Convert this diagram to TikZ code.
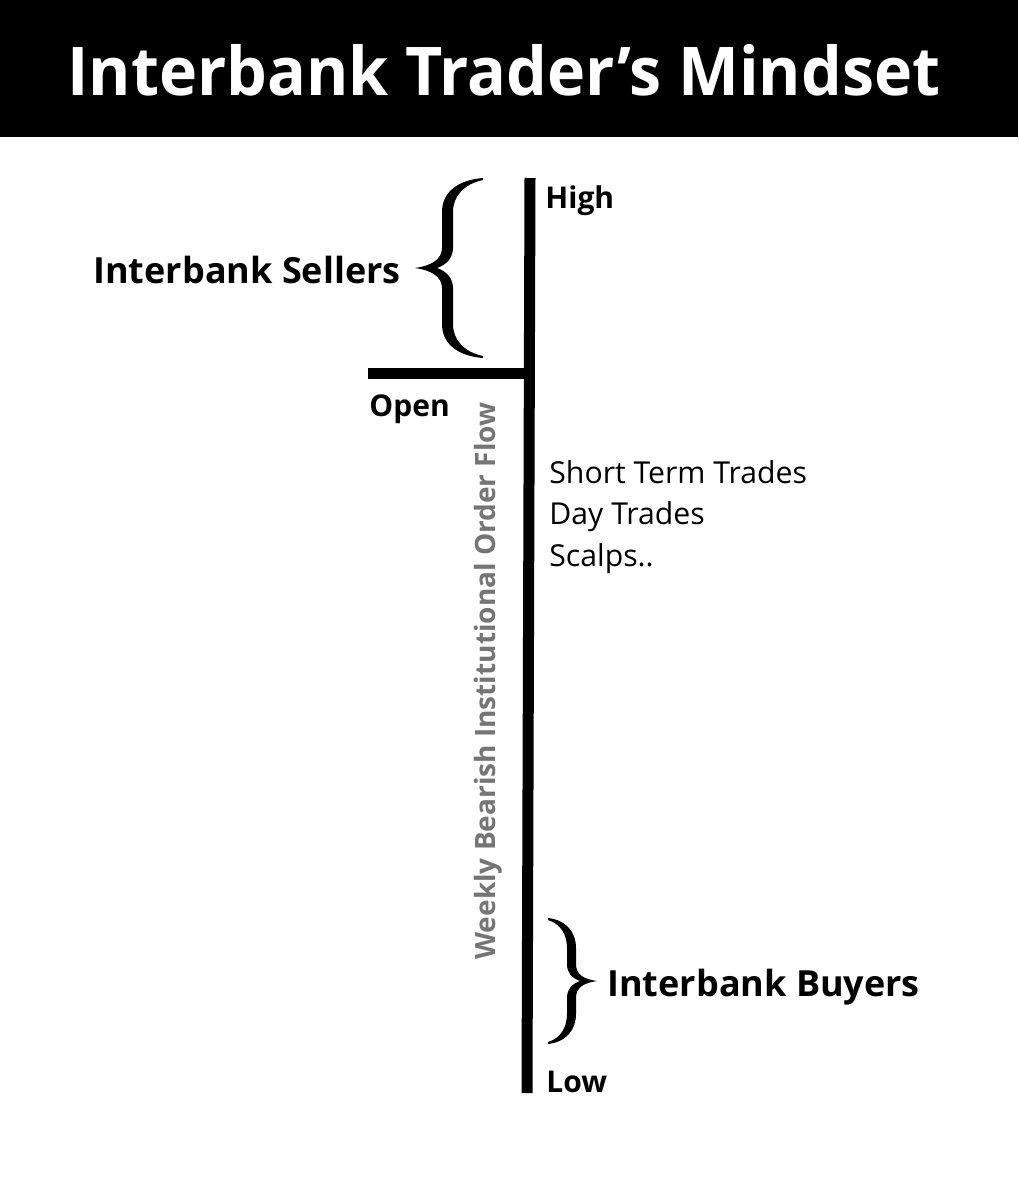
\documentclass[tikz,border=0pt]{standalone}
\usepackage{fontspec}
\setmainfont{Open Sans}
\definecolor{flowgray}{HTML}{757575}
\begin{document}
\begin{tikzpicture}[x=0.5pt,y=-0.5pt,
  lbl/.style={inner sep=0pt, font=\fontsize{15}{18}\selectfont\bfseries},
  big/.style={inner sep=0pt, font=\fontsize{18}{22}\selectfont\bfseries},
  plain/.style={inner sep=0pt, font=\fontsize{15.1}{18}\selectfont},
  bar/.style={line width=5.5pt},
  bracefill/.style={fill=black, draw=none}]
\useasboundingbox (0,0) rectangle (1018,1200);
\fill[black] (0,0) rectangle (1018,137);
\node[inner sep=0pt, anchor=base, text=white, font=\fontsize{33.6}{36}\selectfont\bfseries] (title) at (504,95) {\scalebox{0.96}[1]{Interbank Trader’s Mindset}};
% axis
\coordinate (top) at (530,178);
\coordinate (bot) at (527,1093);
\coordinate (openend) at (368,373);
\coordinate (openjoin) at (529,373);
\draw[bar] (top) -- (bot);
\draw[bar] (openend) -- (openjoin);
% labels
\node[lbl, anchor=base west] (high) at (545,208) {High};
\node[lbl, anchor=base west] (open) at (369,416) {Open};
\node[lbl, anchor=base west] (low) at (546,1092) {Low};
\node[big, anchor=base west] (sellers) at (93,283) {Interbank Sellers};
\node[big, anchor=base west] (buyers) at (607,996) {Interbank Buyers};
\node[plain, anchor=base west] (t1) at (549,483) {Short Term Trades};
\node[plain, anchor=base west] (t2) at (549,524) {Day Trades};
\node[plain, anchor=base west] (t3) at (549,566) {Scalps..};
\node[inner sep=0pt, rotate=90, text=flowgray, font=\fontsize{14}{17}\selectfont\bfseries] (flow) at (488,681) {Weekly Bearish Institutional Order Flow};
% sellers brace (left brace)
\fill[bracefill] (483,178) .. controls (458,180) and (442,192) .. (442,212) -- (442,248)
  .. controls (442,260) and (430,266) .. (415,268)
  .. controls (430,270) and (442,276) .. (442,288) -- (442,324)
  .. controls (442,344) and (458,356) .. (483,358)
  -- (483,356) .. controls (464,352) and (453,340) .. (453,324) -- (453,288)
  .. controls (453,278) and (446,271) .. (437,268)
  .. controls (446,265) and (453,258) .. (453,248) -- (453,212)
  .. controls (453,196) and (464,184) .. (483,180) -- cycle;
% buyers brace (right brace)
\fill[bracefill] (548,918) .. controls (566,920) and (576,932) .. (576,948) -- (576,964)
  .. controls (576,975) and (584,979) .. (597,981)
  .. controls (584,983) and (576,987) .. (576,998) -- (576,1014)
  .. controls (576,1030) and (566,1042) .. (548,1044)
  -- (548,1042) .. controls (561,1038) and (567,1027) .. (567,1014) -- (567,998)
  .. controls (567,989) and (572,984) .. (580,981)
  .. controls (572,978) and (567,973) .. (567,964) -- (567,948)
  .. controls (567,935) and (561,924) .. (548,920) -- cycle;
\end{tikzpicture}
\end{document}
